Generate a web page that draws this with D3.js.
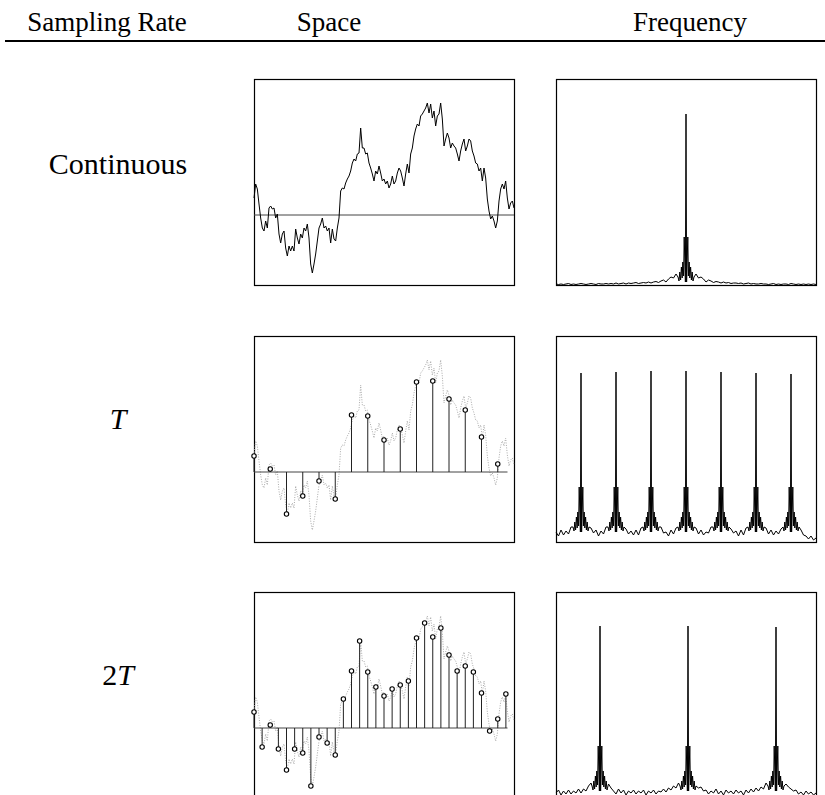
<!DOCTYPE html>
<html>
<head>
<meta charset="utf-8">
<script src="https://cdn.jsdelivr.net/npm/d3@7"></script>
<style>
  body { margin: 0; background: #fff; }
  text { font-family: "Liberation Serif", "DejaVu Serif", serif; fill: #000; }
</style>
</head>
<body>
<svg id="chart" width="825" height="795"></svg>
<script>
// column headers and row labels
const headerLabels = ["Sampling Rate", "Space", "Frequency"]
const rowLabels = ["Continuous", "T", "2T"]

// continuous signal (space domain), evenly spaced over the panel
const spaceSignal = [17,31,26,11,-3,-13,-16,-6,-13,7,
    9,6,7,-3,1,-19,-28,-19,-16,-33,
    -41,-31,-36,-31,-36,-14,-23,-29,-19,-23,
    -13,-16,-9,-23,-49,-58,-49,-39,-26,-13,
    -9,-3,-13,-11,-16,-13,-28,-14,-24,-26,
    -13,-3,24,27,26,32,36,39,44,52,
    56,54,61,62,87,67,67,61,62,52,
    47,41,34,44,41,49,42,34,36,31,
    34,27,31,39,31,34,42,47,44,37,
    29,41,51,42,61,67,79,86,91,89,
    99,101,104,107,112,102,111,97,104,89,
    99,101,112,96,69,76,82,77,67,72,
    69,67,61,54,64,71,76,64,69,76,
    74,64,59,52,51,44,47,34,47,37,
    16,4,-4,-1,-6,-13,-6,14,26,31,
    26,34,17,6,12,14,7]

// sampled values
const samplesT = [16,3,-42,-24,-9,-27,57,56,32,43,90,91,73,62,35,8]
const samples2T = [16,-19,3,-21,-42,-21,-25,-58,-9,-15,-27,29,57,87,56,41,
    32,39,43,47,90,105,91,100,73,57,62,56,35,-3,9,34]

// frequency domain: one side of the peak shape above the floor
const peakOffsets = [0.6, 1.8, 2.4, 3.2, 3.8, 4.6, 5.4, 6.2, 7, 8]
const peakProfile = [2, 47, 8, 22, 6, 17, 4, 12, 3, 7]
const floorBase = [1, 8, 5]

const peaksCont = [130]
const peakHeightsCont = [171]
const peaksT = [25,60,95,130,165,200,235]
const peakHeightsT = [169,170,171,171,170,169,168]
const peaks2T = [44,132,220]
const peakHeights2T = [172,172,171]

// noise floor, every 2.5 frequency units
const floorCont = [1,0.5,1,0.5,1,1.5,0.5,1,0.5,1,1.5,1,0.5,1,1.5,1,0.5,1.5,1,1,1.5,
    1,1.5,1,2,1,1.5,2,1,2,1.5,2,2.5,1.5,2,2.5,2,
    3,2,3,3.5,2.5,4,5,3,
    6,8,7,11,
    14,16,16,0,16,16,14,
    11,7,8,6,
    3,5,4,2.5,3.5,3,2,3,
    2,2.5,1.5,2,2,1.5,2,1,1.5,2,1,1.5,1,1,1.5,1,
    1,0.5,1,1.5,0.5,1,0.5,1,1,0.5,1.5,1,0.5,1,0.5,1,0.5,1,0.5,1,0.5]
const floorT = [10,6,12,7,11,8,15, 16,20,0,0,0,20,16,
    14,9,12,6,11,8,15, 16,20,0,0,0,20,16,
    13,8,11,7,12,7,14, 16,20,0,0,0,20,16,
    15,9,10,6,12,8,14, 16,20,0,0,0,20,16,
    14,8,12,7,10,9,15, 16,20,0,0,0,20,16,
    13,9,11,6,12,7,14, 16,20,0,0,0,20,16,
    14,8,12,7,11,8,13, 16,20,0,0,0,20,16,
    12,7,6,3,6,2,4]
const floor2T = [5,8,3,7,4,8,4,7,5,9,5,9,7,
    12,15,
    16,20,0,0,20,16,
    14,10,
    7,4,9,5,8,3,7,5,8,4,7,5,8,3,7,5,8,4,7,6,9,6,10,
    8,12,10,15,
    20,0,0,0,0,20,
    14,10,11,7,
    8,4,7,5,9,4,7,3,8,5,7,4,8,5,7,3,8,5,9,6,10,7,
    11,9,
    15,
    20,0,0,0,0,0,20,
    14,11,9,7,
    8,4,6,3,7,4,6,3,5]

const svg = d3.select("#chart")

const spaceLeft = 254
const freqLeft = 556
const boxW = 260
const boxH = 206
const rowTops = [79, 336, 592]

// header
const headerX = [107, 329, 690]
headerLabels.forEach(function(label, i) {
    svg.append("text")
        .attr("x", headerX[i])
        .attr("y", 31)
        .attr("text-anchor", "middle")
        .attr("font-size", 27)
        .text(label)
})
svg.append("line")
    .attr("x1", 5).attr("x2", 825)
    .attr("y1", 41).attr("y2", 41)
    .attr("stroke", "#000")
    .attr("stroke-width", 2)

// row labels
const labelY = [174, 429, 685]
rowLabels.forEach(function(label, i) {
    let t = svg.append("text")
        .attr("x", 118)
        .attr("y", labelY[i])
        .attr("text-anchor", "middle")
        .attr("font-size", 30)
    if (label == "Continuous") {
        t.text(label)
    } else {
        let num = label.slice(0, -1)
        if (num) t.append("tspan").text(num)
        t.append("tspan").attr("font-style", "italic").text("T")
    }
})

const xSpace = d3.scaleLinear().domain([0, 1]).range([spaceLeft, spaceLeft + boxW])
const xFreq = d3.scaleLinear().domain([0, 260]).range([freqLeft, freqLeft + boxW])

function box(x, top) {
    svg.append("rect")
        .attr("x", x + 0.5).attr("y", top + 0.5)
        .attr("width", boxW).attr("height", boxH)
        .attr("fill", "none")
        .attr("stroke", "#000")
        .attr("stroke-width", 1.2)
}

function spaceScale(top) {
    return d3.scaleLinear().domain([-70, 136]).range([top + boxH, top])
}

function signalLine(y) {
    return d3.line()
        .x((d, i) => xSpace(i / (spaceSignal.length - 1)))
        .y(d => y(d))
}

// row 1: continuous signal
{
    let top = rowTops[0]
    let y = spaceScale(top)
    box(spaceLeft, top)
    svg.append("line")
        .attr("x1", xSpace(0)).attr("x2", xSpace(1))
        .attr("y1", y(0)).attr("y2", y(0))
        .attr("stroke", "#444")
    svg.append("path")
        .datum(spaceSignal)
        .attr("d", signalLine(y))
        .attr("fill", "none")
        .attr("stroke", "#000")
        .attr("stroke-width", 1)
}

// rows 2 and 3: sampled signal
function sampledPanel(top, samples) {
    let y = spaceScale(top)
    box(spaceLeft, top)
    svg.append("path")
        .datum(spaceSignal)
        .attr("d", signalLine(y))
        .attr("fill", "none")
        .attr("stroke", "#aaa")
        .attr("stroke-width", 1)
        .attr("stroke-dasharray", "1,1.5")
    svg.append("line")
        .attr("x1", xSpace(0)).attr("x2", xSpace(0.975))
        .attr("y1", y(0)).attr("y2", y(0))
        .attr("stroke", "#444")
    let n = samples.length
    let g = svg.append("g")
    g.selectAll("line.stem")
        .data(samples)
        .join("line")
        .attr("class", "stem")
        .attr("x1", (d, i) => xSpace(i / n)).attr("x2", (d, i) => xSpace(i / n))
        .attr("y1", y(0)).attr("y2", d => y(d))
        .attr("stroke", "#222")
        .attr("stroke-width", 1)
    g.selectAll("circle")
        .data(samples)
        .join("circle")
        .attr("cx", (d, i) => xSpace(i / n))
        .attr("cy", d => y(d))
        .attr("r", 2.2)
        .attr("fill", "#fff")
        .attr("stroke", "#000")
        .attr("stroke-width", 1.1)
}
sampledPanel(rowTops[1], samplesT)
sampledPanel(rowTops[2], samples2T)

// frequency panels
function spectrumPoints(floor, peaks, heights, base) {
    let pts = []
    floor.forEach(function(v, i) {
        let f = i * 2.5
        if (peaks.every(c => Math.abs(f - c) >= 8.5)) pts.push([f, v])
    })
    peaks.forEach(function(c, j) {
        pts.push([c, heights[j]])
        peakProfile.forEach(function(v, k) {
            let d = peakOffsets[k]
            pts.push([c - d, base + v])
            pts.push([c + d, base + v])
        })
    })
    pts.sort((a, b) => a[0] - b[0])
    return pts
}

function freqPanel(top, floor, peaks, heights, base) {
    let y = d3.scaleLinear().domain([0, boxH]).range([top + boxH, top])
    box(freqLeft, top)
    svg.append("path")
        .datum(spectrumPoints(floor, peaks, heights, base))
        .attr("d", d3.line().x(d => xFreq(d[0])).y(d => y(d[1])))
        .attr("fill", "none")
        .attr("stroke", "#000")
        .attr("stroke-width", 1)
}
freqPanel(rowTops[0], floorCont, peaksCont, peakHeightsCont, floorBase[0])
freqPanel(rowTops[1], floorT, peaksT, peakHeightsT, floorBase[1])
freqPanel(rowTops[2], floor2T, peaks2T, peakHeights2T, floorBase[2])
</script>
</body>
</html>
